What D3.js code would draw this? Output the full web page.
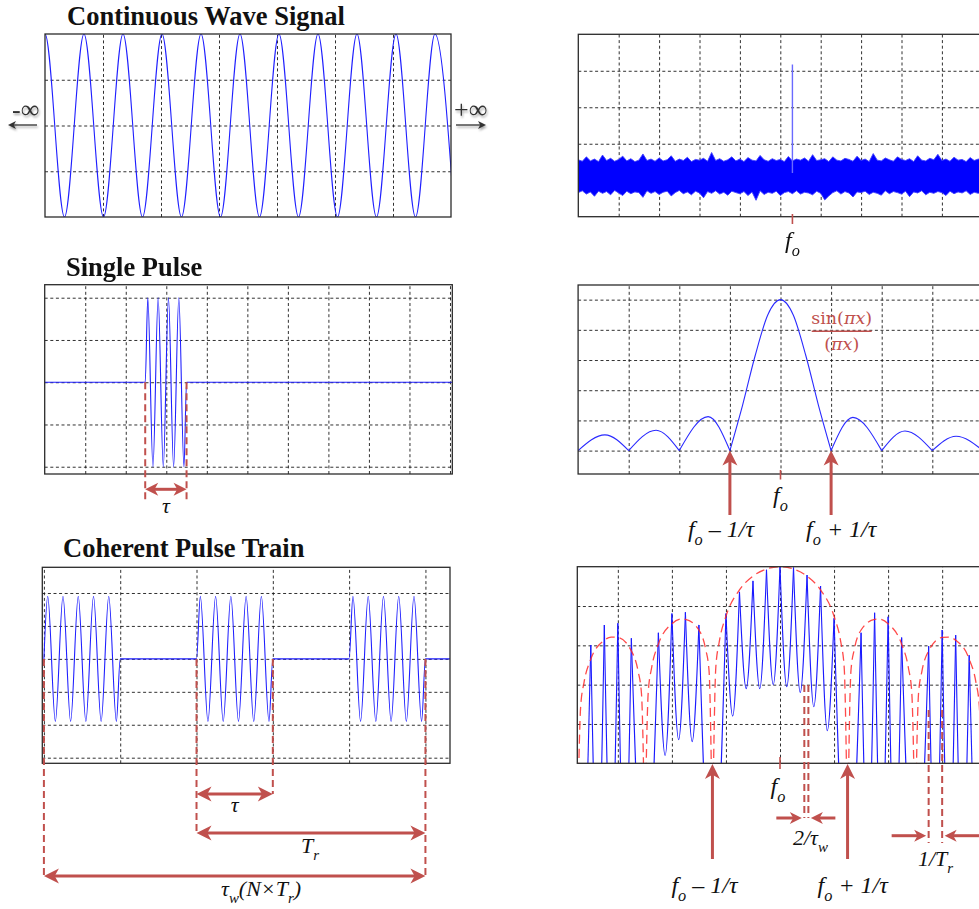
<!DOCTYPE html>
<html>
<head>
<meta charset="utf-8">
<script src="https://cdn.jsdelivr.net/npm/d3@7"></script>
<style>
  html, body { margin: 0; padding: 0; background: #fff; }
  svg { display: block; }
</style>
</head>
<body>
<svg id="fig" width="979" height="909"></svg>
<script>
// ---------------- data ----------------
const panelTitles = ["Continuous Wave Signal", "Single Pulse", "Coherent Pulse Train"];

// continuous wave: extrema [time, amplitude]
const cwExtrema = [[-0.336,-1],[0,1],[0.336,-1],[0.672,1],[1.009,-1],[1.345,1],[1.681,-1],[2.017,1],
  [2.353,-1],[2.690,1],[3.026,-1],[3.362,1],[3.698,-1],[4.034,1],[4.371,-1],[4.707,1],[5.043,-1],
  [5.379,1],[5.715,-1],[6.052,1],[6.388,-1],[6.724,1],[7.060,-1]];

// CW spectrum: noise floor band (upper / lower edge, one sample every noiseStep) and the tone
const noiseStep = 0.1;
const noiseUpper = [1.56,1.52,1.64,1.53,1.58,1.51,1.69,1.54,1.60,1.52,
  1.57,1.66,1.53,1.59,1.51,1.55,1.72,1.54,1.58,1.52,
  1.61,1.53,1.56,1.67,1.52,1.58,1.54,1.63,1.51,1.57,
  1.55,1.60,1.52,1.76,1.54,1.59,1.52,1.56,1.64,1.53,
  1.58,1.51,1.62,1.55,1.53,1.68,1.56,1.52,1.59,1.54,
  1.57,1.51,1.65,1.53,1.58,1.55,1.61,1.52,1.70,1.54,
  1.56,1.59,1.51,1.64,1.55,1.53,1.60,1.57,1.52,1.66,
  1.54,1.58,1.51,1.73,1.55,1.53,1.61,1.56,1.52,1.64,
  1.57,1.54,1.59,1.51,1.67,1.55,1.53,1.60,1.56,1.71,
  1.54,1.58,1.52,1.63,1.55,1.57,1.51,1.62,1.54,1.58,1.56];
const noiseLower = [0.66,0.71,0.62,0.68,0.56,0.70,0.64,0.69,0.60,0.72,
  0.65,0.58,0.70,0.63,0.68,0.66,0.53,0.71,0.64,0.69,
  0.61,0.67,0.70,0.57,0.66,0.72,0.63,0.68,0.60,0.70,
  0.65,0.52,0.69,0.64,0.71,0.62,0.67,0.59,0.70,0.66,
  0.63,0.69,0.58,0.68,0.45,0.71,0.61,0.67,0.64,0.70,
  0.58,0.66,0.69,0.63,0.71,0.62,0.67,0.65,0.60,0.70,
  0.64,0.46,0.57,0.66,0.71,0.62,0.69,0.65,0.54,0.68,
  0.66,0.70,0.61,0.67,0.64,0.59,0.71,0.63,0.69,0.66,
  0.62,0.70,0.55,0.68,0.65,0.71,0.60,0.67,0.64,0.69,
  0.66,0.58,0.70,0.63,0.68,0.65,0.71,0.61,0.67,0.64,0.69];
const cwToneFreq = [5.3];
const cwToneLevel = [4.17];

// single pulse: [time, amplitude]
const singlePulse = [[0,0],[2.48,0],[2.544,1],[2.671,-1],[2.799,1],[2.926,-1],[3.054,1],
  [3.181,-1],[3.309,1],[3.436,-1],[3.50,0],[10.1,0]];
const singlePulseSpan = [2.48, 3.50];

// single pulse spectrum magnitude: [frequency offset, |X|]
const sincPoints = [[-4,0],[-3.47,0.104],[-3,0],[-2.46,0.135],[-2,0],[-1.43,0.225],[-1,0],
  [-0.75,0.30],[-0.5,0.63],[-0.25,0.90],[0,1],[0.25,0.90],[0.5,0.63],[0.75,0.30],[1,0],
  [1.43,0.22],[2,0],[2.46,0.13],[3,0],[3.47,0.095],[4,0]];
const sincNullMarks = [-1, 1];

// coherent pulse train: [time, amplitude]
const trainSignal = [[0,0],[0.05,0.95],[0.15,-0.95],[0.25,0.95],[0.35,-0.95],[0.45,0.95],[0.55,-0.95],
  [0.65,0.95],[0.75,-0.95],[0.85,0.95],[0.95,-0.95],[1,0],
  [2,0],[2.05,0.95],[2.15,-0.95],[2.25,0.95],[2.35,-0.95],[2.45,0.95],[2.55,-0.95],
  [2.65,0.95],[2.75,-0.95],[2.85,0.95],[2.95,-0.95],[3,0],
  [4,0],[4.05,0.95],[4.15,-0.95],[4.25,0.95],[4.35,-0.95],[4.45,0.95],[4.55,-0.95],
  [4.65,0.95],[4.75,-0.95],[4.85,0.95],[4.95,-0.95],[5,0],[5.4,0]];
const trainPulseStarts = [0, 2, 4];
const trainPulseWidth = 1;

// pulse train spectrum (dB): lines, valleys between lines, sinc envelope
const specLineU = [-14,-13,-12,-11,-9,-8,-7,-6,-4,-3,-2,-1,0,1,2,3,4,6,7,8,9,11,12,13,14];
const specLinePeakDb = [-19.9,-14.8,-14.4,-18.2,-16.8,-11.9,-11.6,-14.8,-11.9,-6.4,-3.6,-0.8,0,
  -0.2,-2.1,-4.9,-13.1,-16.8,-11.7,-12.7,-18.0,-20.2,-16.1,-17.4,-22.5];
const specValleyU = [-14.5,-13.5,-12.5,-11.5,-10,-8.5,-7.5,-6.5,-5,-3.5,-2.5,-1.5,-0.5,
  0.5,1.5,2.5,3.5,5,6.5,7.5,8.5,10,11.5,12.5,13.5,14.5];
const specValleyDb = [-90,-80,-78,-80,-90,-48,-44,-44.5,-90,-38,-31,-31,-30,
  -30.5,-32,-35.6,-41.7,-90,-75,-74,-78,-90,-80,-80,-80,-90];
const envelopeDb = [[-15,-70],[-14.75,-35.5],[-14.5,-29.4],[-14,-23.5],[-13,-18.7],[-12.5,-17.9],
  [-12,-18.0],[-11,-21.4],[-10.5,-26.6],[-10.25,-32.3],[-10,-70],[-9.75,-31.9],[-9.5,-25.7],
  [-9,-19.7],[-8,-14.5],[-7.3,-13.3],[-7,-13.4],[-6,-16.1],[-5.5,-21.0],[-5.25,-26.5],[-5,-70],
  [-4.75,-25.6],[-4.5,-19.2],[-4,-12.6],[-3,-5.9],[-2,-2.4],[-1,-0.6],[0,0],[1,-0.6],[2,-2.4],
  [3,-5.9],[4,-12.6],[4.5,-19.2],[4.75,-25.6],[5,-70],[5.25,-26.5],[5.5,-21.0],[6,-16.1],
  [7,-13.4],[7.3,-13.3],[8,-14.5],[9,-19.7],[9.5,-25.7],[9.75,-31.9],[10,-70],[10.25,-32.3],
  [10.5,-26.6],[11,-21.4],[12,-18.0],[12.5,-17.9],[13,-18.7],[14,-23.5],[14.5,-29.4],
  [14.75,-35.5],[15,-70]];
const envNullMarksU = [-5, 5];
const lineWidthMarksU = [1.8, 2.1];
const prfMarksU = [11, 12];

// ---------------- drawing ----------------
const RED = "#c0504d";
const BLUE = "#1f1fff";
const SERIF = "'Liberation Serif','Times New Roman',serif";

const svg = d3.select("#fig");
const defs = svg.append("defs");
defs.append("filter").attr("id", "soft")
  .attr("x", "-30%").attr("y", "-100%").attr("width", "160%").attr("height", "300%")
  .append("feDropShadow").attr("dx", 1).attr("dy", 2).attr("stdDeviation", 1.3)
  .attr("flood-color", "#000").attr("flood-opacity", 0.35);

let clipN = 0;
function makePanel(p) {
  const x = d3.scaleLinear().domain(p.xDomain).range([p.left, p.right]);
  const y = d3.scaleLinear().domain(p.yDomain).range([p.bottom, p.top]);
  const w = p.right - p.left, h = p.bottom - p.top;
  const g = svg.append("g");
  const gx = g.append("g").attr("transform", `translate(0,${p.bottom})`)
    .call(d3.axisBottom(x).tickValues(p.xTicks).tickSize(-h).tickFormat(""));
  const gy = g.append("g").attr("transform", `translate(${p.left},0)`)
    .call(d3.axisLeft(y).tickValues(p.yTicks).tickSize(-w).tickFormat(""));
  [gx, gy].forEach(a => {
    a.select(".domain").remove();
    a.selectAll(".tick line").attr("stroke", "#1a1a1a").attr("stroke-width", 0.9)
      .attr("stroke-dasharray", "3,2.6");
  });
  const id = "clip" + (++clipN);
  defs.append("clipPath").attr("id", id).append("rect")
    .attr("x", p.left).attr("y", p.top).attr("width", w).attr("height", h);
  const plot = g.append("g").attr("clip-path", `url(#${id})`);
  const frame = () => g.append("rect").attr("x", p.left).attr("y", p.top)
    .attr("width", w).attr("height", h).attr("fill", "none")
    .attr("stroke", "#2b2b2b").attr("stroke-width", 1.3);
  return { x, y, g, plot, frame, p };
}

function arrowHead(g, x, y, deg, size, color) {
  g.append("path")
    .attr("d", `M0,0L${-size},${-size * 0.5}L${-size * 0.72},0L${-size},${size * 0.5}Z`)
    .attr("transform", `translate(${x},${y}) rotate(${deg})`)
    .attr("fill", color);
}
// horizontal arrow from x1 to x2; heads optional at either end, each pointing outward
function hArrow(g, x1, x2, y, o) {
  const size = o.size || 15, width = o.width || 3, color = o.color || RED;
  const dir = x2 >= x1 ? 1 : -1;
  g.append("line")
    .attr("x1", o.start ? x1 + dir * size * 0.6 : x1).attr("x2", o.end ? x2 - dir * size * 0.6 : x2)
    .attr("y1", y).attr("y2", y).attr("stroke", color).attr("stroke-width", width);
  if (o.start) arrowHead(g, x1, y, dir > 0 ? 180 : 0, size, color);
  if (o.end) arrowHead(g, x2, y, dir > 0 ? 0 : 180, size, color);
}
function upArrow(g, x, tipY, baseY, size, width, color) {
  g.append("line").attr("x1", x).attr("x2", x).attr("y1", tipY + size * 0.6).attr("y2", baseY)
    .attr("stroke", color).attr("stroke-width", width);
  arrowHead(g, x, tipY, -90, size, color);
}
function dashedV(g, x, y1, y2) {
  g.append("line").attr("x1", x).attr("x2", x).attr("y1", y1).attr("y2", y2)
    .attr("stroke", RED).attr("stroke-width", 2).attr("stroke-dasharray", "7,4");
}
function mathLabel(g, x, y, parts, size, anchor) {
  const t = g.append("text").attr("x", x).attr("y", y)
    .attr("font-family", SERIF).attr("font-style", "italic")
    .attr("font-size", size).attr("text-anchor", anchor || "start").attr("fill", "#111");
  let shift = 0;
  parts.forEach(pt => {
    const target = pt.sub ? size * 0.33 : 0;
    const ts = t.append("tspan").text(pt.t).attr("dy", target - shift);
    if (pt.sub) ts.attr("font-size", size * 0.68);
    shift = target;
  });
  return t;
}
function title(txt, x, y) {
  svg.append("text").attr("x", x).attr("y", y).text(txt)
    .attr("font-family", SERIF).attr("font-weight", "bold").attr("font-size", 26.5).attr("fill", "#111");
}
function splitAtNulls(points, isNull) {
  const segs = []; let cur = [];
  points.forEach(pt => {
    cur.push(pt);
    if (isNull(pt) && cur.length > 1) { segs.push(cur); cur = [pt]; }
  });
  if (cur.length > 1) segs.push(cur);
  return segs;
}

// ===== Continuous wave signal =====
title(panelTitles[0], 67, 25);
const A = makePanel({ left: 45, right: 451, top: 34, bottom: 217, xDomain: [0, 7], yDomain: [-1, 1],
  xTicks: [1, 2, 3, 4, 5, 6], yTicks: [-0.5, 0, 0.5] });
A.plot.append("path").datum(cwExtrema)
  .attr("d", d3.line().x(d => A.x(d[0])).y(d => A.y(d[1])).curve(d3.curveMonotoneX))
  .attr("fill", "none").attr("stroke", BLUE).attr("stroke-width", 1.1);
A.frame();

// infinity markers either side
const inf = svg.append("g").attr("filter", "url(#soft)");
inf.append("text").attr("x", 12).attr("y", 118).text("-\u221E")
  .attr("font-family", SERIF).attr("font-size", 26).attr("fill", "#333");
inf.append("line").attr("x1", 13).attr("x2", 37).attr("y1", 125).attr("y2", 125)
  .attr("stroke", "#333").attr("stroke-width", 1.3);
arrowHead(inf, 8, 125, 180, 8, "#333");
inf.append("text").attr("x", 454).attr("y", 118).text("+\u221E")
  .attr("font-family", SERIF).attr("font-size", 26).attr("fill", "#333");
inf.append("line").attr("x1", 456).attr("x2", 481).attr("y1", 125).attr("y2", 125)
  .attr("stroke", "#333").attr("stroke-width", 1.3);
arrowHead(inf, 486, 125, 0, 8, "#333");

// ===== CW spectrum =====
const B = makePanel({ left: 578.3, right: 982.3, top: 34.3, bottom: 216.7, xDomain: [0, 10], yDomain: [0, 5],
  xTicks: [1, 2, 3, 4, 5, 6, 7, 8, 9], yTicks: [1, 2, 3, 4] });
B.plot.append("path").datum(noiseUpper)
  .attr("d", d3.area().x((d, i) => B.x(i * noiseStep))
    .y0((d, i) => B.y(noiseLower[i])).y1(d => B.y(d)))
  .attr("fill", "#0000ff").attr("stroke", "#4040ff").attr("stroke-width", 0.9);
B.plot.selectAll(".tone").data(cwToneFreq).join("line").attr("class", "tone")
  .attr("x1", d => B.x(d)).attr("x2", d => B.x(d))
  .attr("y1", B.y(1.2)).attr("y2", (d, i) => B.y(cwToneLevel[i]))
  .attr("stroke", "#6a6aff").attr("stroke-width", 1.4);
B.frame();
cwToneFreq.forEach(f => {
  svg.append("line").attr("x1", B.x(f)).attr("x2", B.x(f)).attr("y1", 214).attr("y2", 224)
    .attr("stroke", RED).attr("stroke-width", 1.6);
  mathLabel(svg, B.x(f), 248, [{ t: "f" }, { t: "o", sub: true }], 24, "middle");
});

// ===== Single pulse =====
title(panelTitles[1], 66, 276);
const C = makePanel({ left: 44.7, right: 452.3, top: 284.7, bottom: 474, xDomain: [0, 10.057],
  yDomain: [-1.086, 1.154], xTicks: [1, 2, 3, 4, 5, 6, 7, 8, 9, 10], yTicks: [-1, -0.5, 0, 0.5, 1] });
C.plot.append("path").datum(singlePulse)
  .attr("d", d3.line().x(d => C.x(d[0])).y(d => C.y(d[1])).curve(d3.curveMonotoneX))
  .attr("fill", "none").attr("stroke", BLUE).attr("stroke-width", 1.1);
C.frame();
singlePulseSpan.forEach(t => dashedV(svg, C.x(t), C.y(0), 502));
hArrow(svg, C.x(singlePulseSpan[0]), C.x(singlePulseSpan[1]), 489.3, { start: true, end: true, size: 13 });
mathLabel(svg, (C.x(singlePulseSpan[0]) + C.x(singlePulseSpan[1])) / 2, 513, [{ t: "\u03C4" }], 22, "middle");

// ===== Single pulse spectrum =====
const D = makePanel({ left: 578.1, right: 982.9, top: 285, bottom: 474, xDomain: [-4, 4],
  yDomain: [-0.155, 1.097], xTicks: [-3, -2, -1, 0, 1, 2, 3], yTicks: [0, 0.2, 0.4, 0.6, 0.8, 1] });
const sincLine = d3.line().x(d => D.x(d[0])).y(d => D.y(d[1])).curve(d3.curveMonotoneX);
D.plot.selectAll(".lobe").data(splitAtNulls(sincPoints, d => d[1] === 0)).join("path")
  .attr("class", "lobe").attr("d", sincLine)
  .attr("fill", "none").attr("stroke", "#2a2aff").attr("stroke-width", 1.1);
D.frame();
svg.append("line").attr("x1", D.x(0)).attr("x2", D.x(0)).attr("y1", 470).attr("y2", 479.5)
  .attr("stroke", RED).attr("stroke-width", 1.6);
mathLabel(svg, D.x(0), 503, [{ t: "f" }, { t: "o", sub: true }], 24, "middle");
sincNullMarks.forEach(u => upArrow(svg, D.x(u), D.y(0), 515, 15, 3, RED));
mathLabel(svg, D.x(sincNullMarks[0]) - 42, 537, [{ t: "f" }, { t: "o", sub: true }, { t: " \u2013 1/\u03C4" }], 24);
mathLabel(svg, D.x(sincNullMarks[1]) - 25, 537, [{ t: "f" }, { t: "o", sub: true }, { t: " + 1/\u03C4" }], 24);
const frac = svg.append("g").attr("fill", RED).attr("font-family", "'DejaVu Serif',serif").attr("font-size", 17.5)
  .attr("text-anchor", "middle");
const num = frac.append("text").attr("x", 841.7).attr("y", 324);
num.append("tspan").text("sin(");
num.append("tspan").text("\u03C0x").attr("font-style", "italic");
num.append("tspan").text(")");
frac.append("line").attr("x1", 811.7).attr("x2", 871.7).attr("y1", 331.3).attr("y2", 331.3)
  .attr("stroke", RED).attr("stroke-width", 1.6);
const den = frac.append("text").attr("x", 841.7).attr("y", 350);
den.append("tspan").text("(");
den.append("tspan").text("\u03C0x").attr("font-style", "italic");
den.append("tspan").text(")");

// ===== Coherent pulse train =====
title(panelTitles[2], 63, 557);
const E = makePanel({ left: 42.3, right: 450, top: 567.3, bottom: 763.3, xDomain: [-0.021, 5.322],
  yDomain: [-1.585, 1.39], xTicks: [0, 1, 2, 3, 4, 5], yTicks: [-1.5, -1, -0.5, 0, 0.5, 1] });
E.plot.append("path").datum(trainSignal)
  .attr("d", d3.line().x(d => E.x(d[0])).y(d => E.y(d[1])).curve(d3.curveMonotoneX))
  .attr("fill", "none").attr("stroke", BLUE).attr("stroke-width", 1.1);
E.frame();
const pFirst = trainPulseStarts[0];
const pSecond = trainPulseStarts[1];
const pLastEnd = trainPulseStarts[trainPulseStarts.length - 1] + trainPulseWidth;
const yTau = 794, yTr = 833, yTw = 876;
dashedV(svg, E.x(pFirst), E.y(0), yTw);
dashedV(svg, E.x(pSecond), E.y(0), yTr);
dashedV(svg, E.x(pSecond + trainPulseWidth), E.y(0), yTau);
dashedV(svg, E.x(pLastEnd), E.y(0), yTw);
hArrow(svg, E.x(pSecond), E.x(pSecond + trainPulseWidth), yTau, { start: true, end: true });
hArrow(svg, E.x(pSecond), E.x(pLastEnd), yTr, { start: true, end: true });
hArrow(svg, E.x(pFirst), E.x(pLastEnd), yTw, { start: true, end: true });
mathLabel(svg, E.x(pSecond + trainPulseWidth / 2), 812, [{ t: "\u03C4" }], 22, "middle");
mathLabel(svg, 301, 853, [{ t: "T" }, { t: "r", sub: true }], 22);
mathLabel(svg, 221, 896, [{ t: "\u03C4" }, { t: "w", sub: true }, { t: "(N\u00D7T" }, { t: "r", sub: true }, { t: ")" }], 22);

// ===== Pulse train spectrum =====
const F = makePanel({ left: 577.3, right: 982.7, top: 566.7, bottom: 763.3, xDomain: [-15, 15],
  yDomain: [-50, 0], xTicks: [-12, -8, -4, 0, 4, 8, 12], yTicks: [-40, -30, -20, -10] });
// spectral lines joined through the valleys that separate them
const specSegs = [];
for (let i = 0; i < specValleyU.length; i++) {
  const v = [specValleyU[i], specValleyDb[i]];
  const a = i > 0 ? [specLineU[i - 1], specLinePeakDb[i - 1]] : null;
  const b = i < specLineU.length ? [specLineU[i], specLinePeakDb[i]] : null;
  specSegs.push([a, v, b].filter(Boolean));
}
const specLine = d3.line().x(d => F.x(d[0])).y(d => F.y(d[1])).curve(d3.curveMonotoneX);
F.plot.selectAll(".seg").data(specSegs).join("path").attr("class", "seg")
  .attr("d", specLine).attr("fill", "none").attr("stroke", "#1a1aff").attr("stroke-width", 1.1);
F.plot.selectAll(".env").data(splitAtNulls(envelopeDb, d => d[1] <= -70)).join("path").attr("class", "env")
  .attr("d", specLine).attr("fill", "none").attr("stroke", "#ff2a2a").attr("stroke-opacity", 0.85)
  .attr("stroke-width", 1.3).attr("stroke-dasharray", "9,5");
F.frame();
svg.append("line").attr("x1", F.x(0)).attr("x2", F.x(0)).attr("y1", 757).attr("y2", 769)
  .attr("stroke", RED).attr("stroke-width", 1.6);
mathLabel(svg, F.x(0) - 2, 794, [{ t: "f" }, { t: "o", sub: true }], 24, "middle");
envNullMarksU.forEach(u => upArrow(svg, F.x(u), 764, 859, 15, 3, RED));
mathLabel(svg, F.x(envNullMarksU[0]) - 41, 893, [{ t: "f" }, { t: "o", sub: true }, { t: " \u2013 1/\u03C4" }], 24);
mathLabel(svg, F.x(envNullMarksU[1]) - 30, 893, [{ t: "f" }, { t: "o", sub: true }, { t: " + 1/\u03C4" }], 24);
// width of a single spectral line
lineWidthMarksU.forEach(u => dashedV(svg, F.x(u), 685, 818));
hArrow(svg, F.x(lineWidthMarksU[0]) - 28, F.x(lineWidthMarksU[0]) - 2.5, 818, { end: true, size: 12 });
hArrow(svg, F.x(lineWidthMarksU[1]) + 27, F.x(lineWidthMarksU[1]) + 2.5, 818, { end: true, size: 12 });
mathLabel(svg, 793, 845, [{ t: "2/\u03C4" }, { t: "w", sub: true }], 22);
// line spacing
prfMarksU.forEach(u => dashedV(svg, F.x(u), 710, 843));
hArrow(svg, F.x(prfMarksU[0]) - 37, F.x(prfMarksU[0]) - 2.5, 835.7, { end: true, size: 12 });
hArrow(svg, F.x(prfMarksU[1]) + 40, F.x(prfMarksU[1]) + 2.5, 835.7, { end: true, size: 12 });
mathLabel(svg, 918, 866, [{ t: "1/T" }, { t: "r", sub: true }], 22);
</script>
</body>
</html>
